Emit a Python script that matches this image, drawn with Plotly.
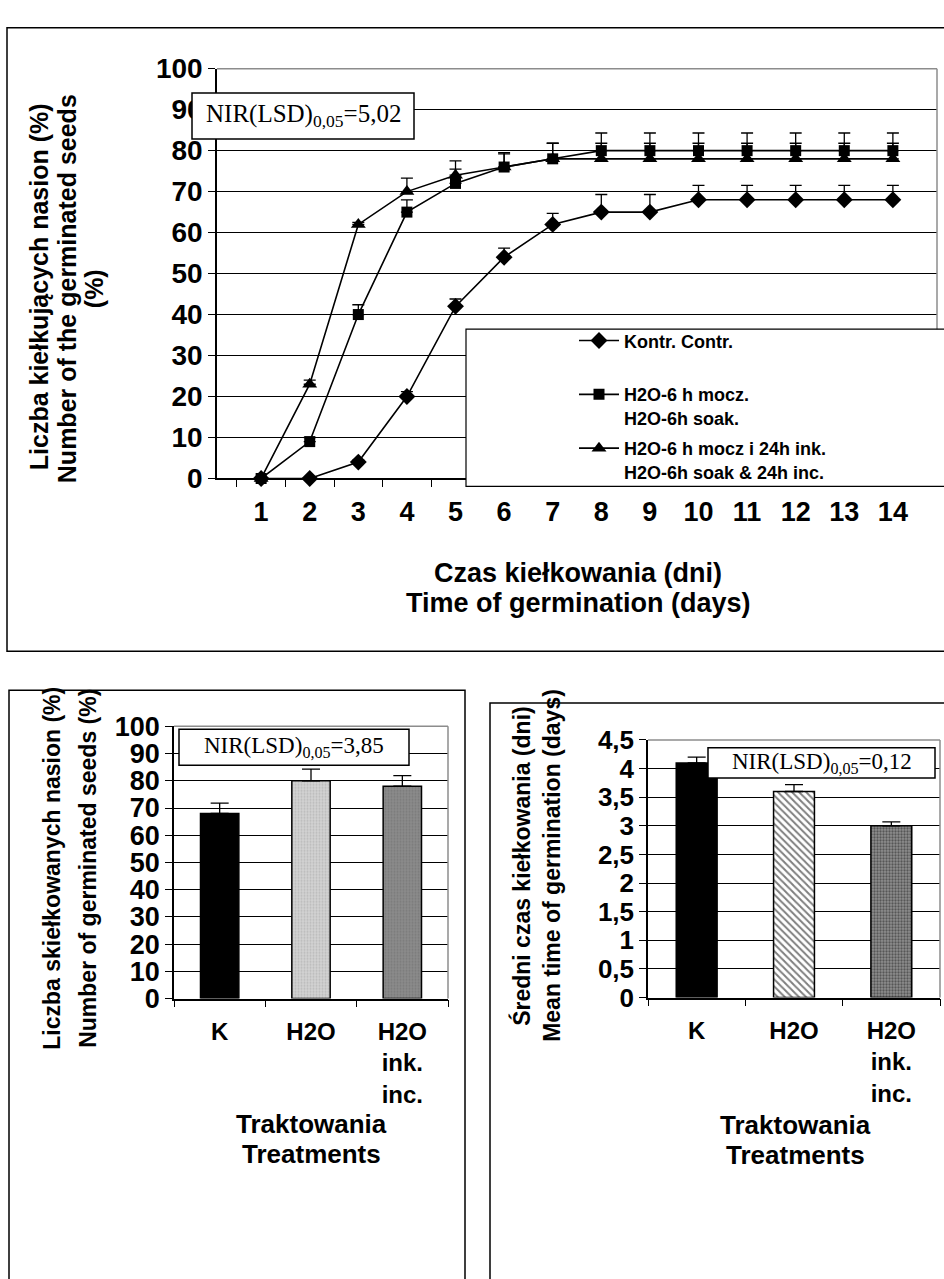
import plotly.graph_objects as go

W, H = 944, 1279


def px(x):
    return x / W


def py(y):
    return 1 - y / H


# ---------------- data ----------------
days = ["1", "2", "3", "4", "5", "6", "7", "8", "9", "10", "11", "12", "13", "14"]
kontr = [0, 0, 4, 20, 42, 54, 62, 65, 65, 68, 68, 68, 68, 68]
kontr_err = [0, 0, 0.5, 1.2, 1.8, 2.2, 2.7, 4.3, 4.3, 3.5, 3.5, 3.5, 3.5, 3.5]
h2o = [0, 9, 40, 65, 72, 76, 78, 80, 80, 80, 80, 80, 80, 80]
h2o_err = [0, 1, 2.4, 3, 3.5, 3.2, 3.8, 4.3, 4.3, 4.3, 4.3, 4.3, 4.3, 4.3]
ink = [0, 23, 62, 70, 74, 76, 78, 78, 78, 78, 78, 78, 78, 78]
ink_err = [0, 1, 0.5, 3.3, 3.5, 3.5, 3.8, 3.8, 3.8, 3.8, 3.8, 3.8, 3.8, 3.8]
series_names = [
    "Kontr. Contr.<br>\u00a0",
    "H2O-6 h mocz.<br>H2O-6h soak.",
    "H2O-6 h mocz i 24h ink.<br>H2O-6h soak & 24h inc.",
]

treatments = ["K", "H2O", "H2O<br>ink.<br>inc."]
germ_pct = [68, 80, 78]
germ_pct_err = [3.8, 4.3, 3.9]
mean_time = [4.1, 3.6, 3.0]
mean_time_err = [0.1, 0.12, 0.07]
time_ticks = [0, 0.5, 1, 1.5, 2, 2.5, 3, 3.5, 4, 4.5]
time_tick_labels = ["0", "0,5", "1", "1,5", "2", "2,5", "3", "3,5", "4", "4,5"]
pct_ticks = [0, 10, 20, 30, 40, 50, 60, 70, 80, 90, 100]

# ---------------- styles ----------------
SANS = "Arial, Liberation Sans, sans-serif"
SERIF = "Times New Roman, Liberation Serif, serif"
BOLD = dict(family=SANS, color="black", weight="bold")

fig = go.Figure()

markers = ["diamond", "square", "triangle-up"]
msizes = [13, 11, 13]
for k, (name, vals, errs, sym, ms) in enumerate(zip(series_names, [kontr, h2o, ink],
                                                    [kontr_err, h2o_err, ink_err],
                                                    markers, msizes)):
    fig.add_trace(go.Scatter(
        x=days, y=vals, mode="lines+markers", name=name, legendgroup=f"g{k}",
        line=dict(color="black", width=1.6),
        marker=dict(symbol=sym, size=ms, color="black"),
        error_y=dict(type="data", symmetric=False, array=errs,
                     arrayminus=[0] * len(errs), color="black", thickness=1.3, width=6),
        xaxis="x", yaxis="y", cliponaxis=False,
    ))

# bar styles (one trace per treatment so every fill is exact)
left_styles = [
    dict(color="black", pattern=None),
    dict(color="#d2d2d2", pattern=dict(shape=".", fgcolor="#a0a0a0", size=3, solidity=0.35)),
    dict(color="#8a8a8a", pattern=dict(shape=".", fgcolor="#6a6a6a", size=3, solidity=0.35)),
]
right_styles = [
    dict(color="black", pattern=None),
    dict(color="white", pattern=dict(shape="\\", fgcolor="black", size=5, solidity=0.4)),
    dict(color="#8e8e8e", pattern=dict(shape=".", fgcolor="#1e1e1e", size=3, solidity=0.45)),
]

for i, cat in enumerate(treatments):
    st = left_styles[i]
    mk = dict(color=st["color"], line=dict(color="black", width=1.5))
    if st["pattern"]:
        mk["pattern"] = dict(fillmode="overlay", **st["pattern"])
    fig.add_trace(go.Bar(
        x=[cat], y=[germ_pct[i]], width=0.42, showlegend=False, marker=mk,
        error_y=dict(type="data", symmetric=False, array=[germ_pct_err[i]],
                     arrayminus=[0], color="black", thickness=1.3, width=9),
        xaxis="x2", yaxis="y2",
    ))
    st = right_styles[i]
    mk = dict(color=st["color"], line=dict(color="black", width=1.5))
    if st["pattern"]:
        mk["pattern"] = dict(fillmode="overlay", **st["pattern"])
    fig.add_trace(go.Bar(
        x=[cat], y=[mean_time[i]], width=0.42, showlegend=False, marker=mk,
        error_y=dict(type="data", symmetric=False, array=[mean_time_err[i]],
                     arrayminus=[0], color="black", thickness=1.3, width=9),
        xaxis="x3", yaxis="y3",
    ))

axis_common = dict(
    showline=True, linecolor="black", linewidth=1.5,
    ticks="outside", tickcolor="black", ticklen=7, tickwidth=1,
    zeroline=False, color="black",
)

fig.update_layout(
    width=W, height=H,
    margin=dict(l=0, r=0, t=0, b=0),
    paper_bgcolor="white", plot_bgcolor="white",
    showlegend=True,
    barmode="overlay",
    legend=dict(
        x=px(574), y=py(315), xanchor="left", yanchor="top",
        bgcolor="rgba(0,0,0,0)", borderwidth=0, valign="top",
        font=dict(family=SANS, size=18, color="black", weight="bold"),
        tracegroupgap=4, itemwidth=40,
    ),
    xaxis=dict(
        domain=[px(217), px(937)], anchor="y", type="category",
        tickson="boundaries", showgrid=False, ticklabelstandoff=8,
        tickfont=dict(size=27, **BOLD), **axis_common,
    ),
    yaxis=dict(
        domain=[py(475), py(55)], anchor="x", range=[0, 100],
        tickvals=pct_ticks, showgrid=True, gridcolor="black", gridwidth=1,
        tickfont=dict(size=28, **BOLD), **axis_common,
    ),
    xaxis2=dict(
        domain=[px(174), px(448)], anchor="y2", type="category",
        tickson="boundaries", showgrid=False, ticklabelstandoff=11,
        tickfont=dict(size=24, **BOLD), **axis_common,
    ),
    yaxis2=dict(
        domain=[py(1008), py(729)], anchor="x2", range=[0, 100],
        tickvals=pct_ticks, showgrid=True, gridcolor="black", gridwidth=1,
        tickfont=dict(size=27, **BOLD), **axis_common,
    ),
    xaxis3=dict(
        domain=[px(648), px(940)], anchor="y3", type="category",
        tickson="boundaries", showgrid=False, ticklabelstandoff=11,
        tickfont=dict(size=24, **BOLD), **axis_common,
    ),
    yaxis3=dict(
        domain=[py(1007), py(743)], anchor="x3", range=[0, 4.5],
        tickvals=time_ticks, ticktext=time_tick_labels,
        showgrid=True, gridcolor="black", gridwidth=1,
        tickfont=dict(size=26, **BOLD), **axis_common,
    ),
)

shapes = []
# outer frames
shapes.append(dict(type="rect", xref="paper", yref="paper",
                   x0=px(7), x1=px(952), y0=py(652), y1=py(13),
                   line=dict(color="black", width=1.5), layer="below"))
shapes.append(dict(type="rect", xref="paper", yref="paper",
                   x0=px(9), x1=px(465), y0=py(1300), y1=py(692),
                   line=dict(color="black", width=1.5), layer="below"))
shapes.append(dict(type="rect", xref="paper", yref="paper",
                   x0=px(490), x1=px(952), y0=py(1300), y1=py(705),
                   line=dict(color="black", width=1.5), layer="below"))
# grey plot-area borders (top and right)
for xr, yr in [("x", "y"), ("x2", "y2"), ("x3", "y3")]:
    shapes.append(dict(type="line", xref=f"{xr} domain", yref=f"{yr} domain",
                       x0=0, x1=1, y0=1, y1=1,
                       line=dict(color="#8c8c8c", width=1.5), layer="above"))
    shapes.append(dict(type="line", xref=f"{xr} domain", yref=f"{yr} domain",
                       x0=1, x1=1, y0=0, y1=1,
                       line=dict(color="#8c8c8c", width=1.5), layer="above"))
# legend box
shapes.append(dict(type="rect", xref="paper", yref="paper",
                   x0=px(466), x1=px(952), y0=py(483), y1=py(322),
                   line=dict(color="black", width=1.2), fillcolor="white", layer="above"))
# NIR boxes
nir_boxes = [(192, 414, 80, 127), (179, 409, 732, 769), (708, 935, 751, 782)]
for x0, x1, y0, y1 in nir_boxes:
    shapes.append(dict(type="rect", xref="paper", yref="paper",
                       x0=px(x0), x1=px(x1), y0=py(y1), y1=py(y0),
                       line=dict(color="black", width=1.5), fillcolor="white", layer="above"))
fig.update_layout(shapes=shapes)

ann = []
nir_texts = ["NIR(LSD)<sub>0,05</sub>=5,02", "NIR(LSD)<sub>0,05</sub>=3,85",
             "NIR(LSD)<sub>0,05</sub>=0,12"]
nir_sizes = [25, 23, 23]
for (x0, x1, y0, y1), t, s in zip(nir_boxes, nir_texts, nir_sizes):
    ann.append(dict(xref="paper", yref="paper", x=px((x0 + x1) / 2), y=py((y0 + y1) / 2),
                    text=t, showarrow=False, xanchor="center", yanchor="middle",
                    font=dict(family=SERIF, size=s, color="black")))


def label(x, y, text, size, angle=0):
    ann.append(dict(xref="paper", yref="paper", x=px(x), y=py(y), text=text,
                    showarrow=False, xanchor="center", yanchor="middle",
                    textangle=angle, font=dict(size=size, **BOLD)))


# top chart titles
label(39, 279, "Liczba kiełkujących nasion (%)", 25, -90)
label(67, 281, "Number of the germinated seeds", 25, -90)
label(94, 281, "(%)", 25, -90)
label(578, 572, "Czas kiełkowania (dni)", 27)
label(578, 603, "Time of germination (days)", 27)
# bottom-left titles
label(52, 875, "Liczba skiełkowanych nasion (%)", 23, -90)
label(88, 875, "Number of germinated seeds (%)", 23, -90)
label(311, 1137, "Traktowania", 26)
label(311, 1167, "Treatments", 26)
# bottom-right titles
label(522, 872, "Średni czas kiełkowania (dni)", 23, -90)
label(552, 872, "Mean time of germination (days)", 23, -90)
label(795, 1138, "Traktowania", 26)
label(795, 1168, "Treatments", 26)

fig.update_layout(annotations=ann)

fig.write_html("out.html", config={"displayModeBar": False},
               post_script="document.body.style.margin='0px';")
